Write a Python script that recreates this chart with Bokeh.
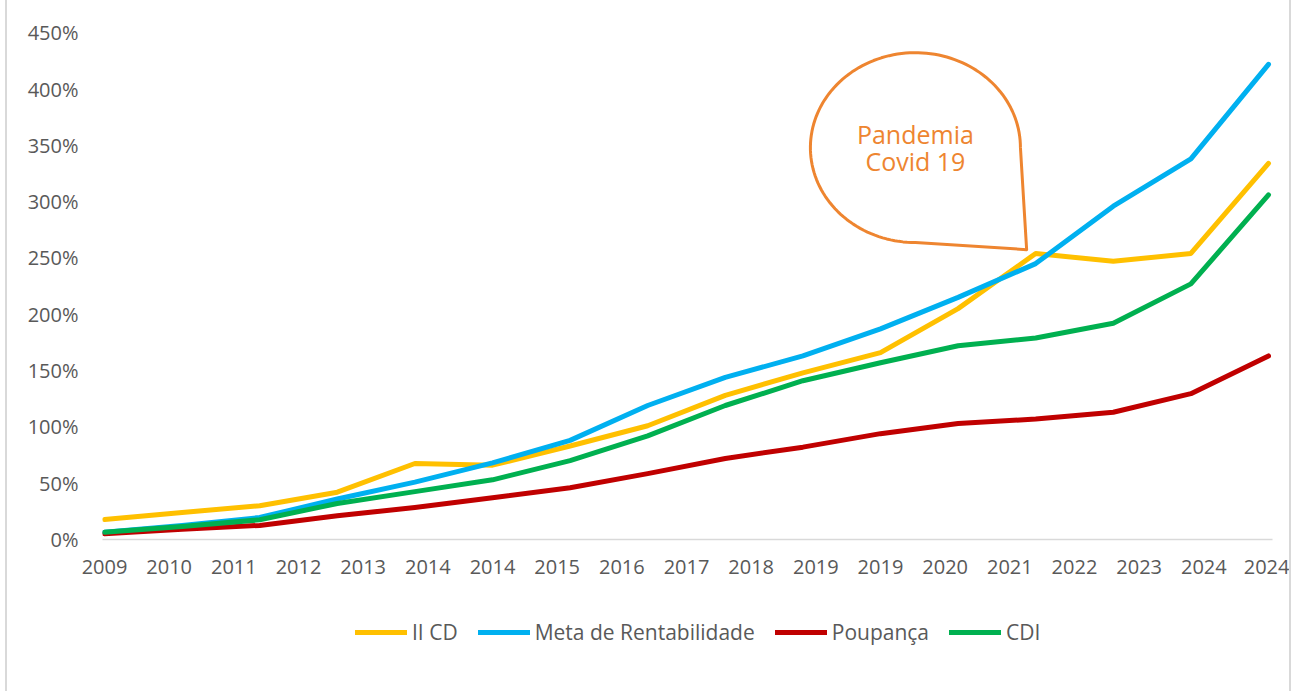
import numpy as np
from bokeh.plotting import figure
from bokeh.layouts import column
from bokeh.models import Range1d, FixedTicker, PrintfTickFormatter, Legend, LegendItem
from bokeh.embed import file_html
from bokeh.resources import INLINE
from bokeh.core.properties import value

# ---------------- data ----------------
years = ["2009", "2010", "2011", "2012", "2013", "2014", "2015", "2016",
         "2017", "2018", "2019", "2020", "2021", "2022", "2023", "2024"]
tick_labels = ["2009", "2010", "2011", "2012", "2013", "2014", "2014", "2015",
               "2016", "2017", "2018", "2019", "2019", "2020", "2021", "2022",
               "2023", "2024", "2024"]
ii_cd = [17.8, 24, 30, 42, 67.5, 66, 83, 101, 128, 148, 166, 205, 254, 247, 254, 334]
meta = [6.5, 12.5, 19.5, 36, 51, 68, 88, 119, 144, 163, 187, 215, 245, 296, 338, 422]
poupanca = [5, 9, 12.5, 21, 28.5, 37, 46, 58.5, 72, 82, 94, 103, 107, 113, 129.5, 163]
cdi = [6.5, 11.5, 17.5, 32, 42.5, 53, 70, 92, 119, 141, 157, 172, 179, 192, 227, 306]
y_ticks = [0, 50, 100, 150, 200, 250, 300, 350, 400, 450]
series_names = ["II CD", "Meta de Rentabilidade", "Poupança", "CDI"]
callout_text = "Pandemia\nCovid 19"

# ---------------- figure ----------------
FONT = "Open Sans"
TXT = "#595959"
W = 1282
n_ticks = len(tick_labels)
scale = (n_ticks - 1) / (len(years) - 1)
xs = [i * scale for i in range(len(years))]

p = figure(width=W, height=600, output_backend="svg", toolbar_location=None,
           x_range=Range1d(-0.031, 18.062), y_range=Range1d(0, 460),
           min_border_left=95, min_border_right=17, min_border_top=21,
           min_border_bottom=61)
p.outline_line_color = None
p.xgrid.grid_line_color = None
p.ygrid.grid_line_color = None

p.xaxis.ticker = FixedTicker(ticks=list(range(n_ticks)))
p.xaxis.major_label_overrides = {i: t for i, t in enumerate(tick_labels)}
p.xaxis.axis_line_color = "#d9d9d9"
p.xaxis.axis_line_width = 1.5
p.xaxis.major_tick_line_color = None
p.xaxis.minor_tick_line_color = None
p.xaxis.major_tick_out = 0
p.xaxis.major_label_standoff = 20
p.xaxis.major_label_text_font = FONT
p.xaxis.major_label_text_font_size = "20px"
p.xaxis.major_label_text_color = TXT

p.yaxis.ticker = FixedTicker(ticks=y_ticks)
p.yaxis.formatter = PrintfTickFormatter(format="%d%%")
p.yaxis.axis_line_color = None
p.yaxis.major_tick_line_color = None
p.yaxis.minor_tick_line_color = None
p.yaxis.major_tick_out = 0
p.yaxis.major_label_standoff = 24
p.yaxis.major_label_text_font = FONT
p.yaxis.major_label_text_font_size = "20px"
p.yaxis.major_label_text_color = TXT

colors = ["#FFC000", "#00B0F0", "#C00000", "#00B050"]
series = [ii_cd, meta, poupanca, cdi]
for ys, c in zip(series, colors):
    p.line(xs, ys, line_color=c, line_width=5, line_cap="round", line_join="round")

# ---------------- callout ----------------
cx, cy, rx, ry = 12.54, 348, 1.624, 84.3
tip_x, tip_y = 14.26, 257.4
th = np.linspace(0, 1.5 * np.pi, 120)
px = list(cx + rx * np.cos(th)) + [tip_x, cx + rx]
py = list(cy + ry * np.sin(th)) + [tip_y, cy]
p.line(px, py, line_color="#EE8530", line_width=3, line_join="round")
p.text(x=[cx], y=[cy], text=[callout_text], text_align="center", text_baseline="middle",
       text_font=value(FONT), text_font_size="25px", text_color="#EE8530",
       text_line_height=0.78)

# ---------------- legend (separate strip) ----------------
lg = figure(width=W, height=91, output_backend="svg", toolbar_location=None,
            x_range=Range1d(1000, 1001), y_range=Range1d(1000, 1001),
            min_border=0, x_axis_location=None, y_axis_location=None)
lg.outline_line_color = None
lg.xgrid.grid_line_color = None
lg.ygrid.grid_line_color = None
items = []
for name, ys, c in zip(series_names, series, colors):
    r = lg.line(xs, ys, line_color=c, line_width=5, line_cap="round")
    items.append(LegendItem(label=name, renderers=[r]))
legend = Legend(items=items, orientation="horizontal", location=(253, 45),
                label_text_font=FONT, label_text_font_size="21px", label_text_color=TXT,
                glyph_width=52, glyph_height=20, label_standoff=5, spacing=20,
                border_line_color=None, background_fill_alpha=0, margin=0, padding=6)
lg.add_layout(legend)

layout = column(p, lg, spacing=0)
layout.styles = {"border-left": "2px solid #d9d9d9", "border-right": "2px solid #d9d9d9",
                 "margin-left": "5px"}

open("out.html", "w").write(file_html(layout, INLINE))
